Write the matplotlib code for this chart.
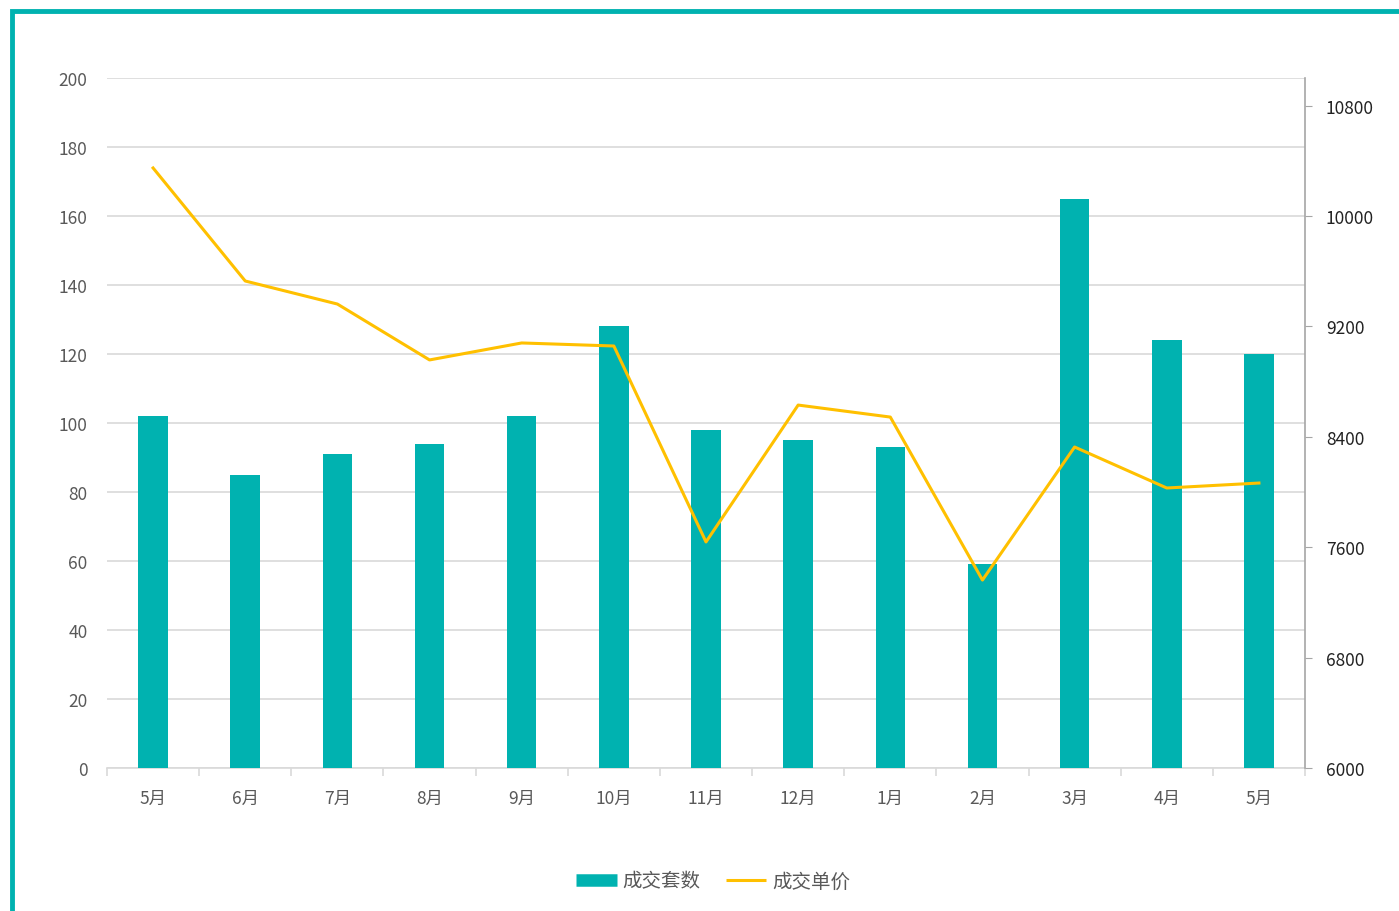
import matplotlib.pyplot as plt
from matplotlib.patches import Rectangle
from matplotlib.lines import Line2D

plt.rcParams['font.family'] = ['Noto Sans CJK SC', 'DejaVu Sans']

months = ['5月', '6月', '7月', '8月', '9月', '10月', '11月', '12月', '1月', '2月', '3月', '4月', '5月']
deals = [102, 85, 91, 94, 102, 128, 98, 95, 93, 59, 165, 124, 120]
price = [10348, 9529, 9362, 8957, 9080, 9058, 7638, 8630, 8543, 7362, 8326, 8029, 8065]

TEAL = '#00B2B0'
GOLD = '#FFC000'
TXT = '#595959'

fig = plt.figure(figsize=(13.99, 9.12), dpi=100)
ax = fig.add_axes([107 / 1399, 1 - 769 / 912, 1198 / 1399, 690 / 912])
x = list(range(len(months)))

ax.bar(x, deals, width=0.32, color=TEAL, zorder=3)
ax.set_xlim(-0.5, len(months) - 0.5)
ax.set_ylim(0, 200)
ax.set_yticks(range(0, 201, 20))
ax.grid(axis='y', color='#D9D9D9', linewidth=1.2, zorder=0)
ax.set_xticks(x)
ax.set_xticklabels(months)
ax.set_xticks([i - 0.5 for i in range(len(months) + 1)], minor=True)
ax.tick_params(axis='x', which='major', length=0, pad=15, labelsize=12.5, labelcolor=TXT)
ax.tick_params(axis='x', which='minor', length=6, color='#D9D9D9', width=1.2)
ax.tick_params(axis='y', length=0, pad=14, labelsize=12.5, labelcolor=TXT)
for s in ['top', 'left', 'right']:
    ax.spines[s].set_visible(False)
ax.spines['bottom'].set_color('#D9D9D9')
ax.spines['bottom'].set_linewidth(1.2)

ax2 = ax.twinx()
ax2.plot(x, price, color=GOLD, linewidth=2.2, zorder=4)
ax2.set_ylim(6000, 11000)
ax2.set_yticks(range(6000, 10801, 800))
ax2.tick_params(axis='y', length=5, color='#A6A6A6', pad=10, labelsize=12.5, labelcolor='#222222')
for s in ['top', 'left', 'bottom']:
    ax2.spines[s].set_visible(False)
ax2.spines['right'].set_color('#A6A6A6')
ax2.spines['right'].set_linewidth(1.2)

handles = [Line2D([], [], color=TEAL, linewidth=9, solid_capstyle='butt'),
           Line2D([], [], color=GOLD, linewidth=2.2, solid_capstyle='butt')]
fig.legend(handles, ['成交套数', '成交单价'], loc='center', bbox_to_anchor=(713 / 1399, 1 - 882 / 912),
           ncol=2, frameon=False, fontsize=14, labelcolor=TXT, handlelength=2.1,
           handletextpad=0.3, columnspacing=1.3)

fig.patches.append(Rectangle((12 / 1399, -0.1), 1.2, 1 - 12 / 912 + 0.1, transform=fig.transFigure,
                             fill=False, edgecolor=TEAL, linewidth=3.5))

fig.savefig('out.png', dpi=100)
